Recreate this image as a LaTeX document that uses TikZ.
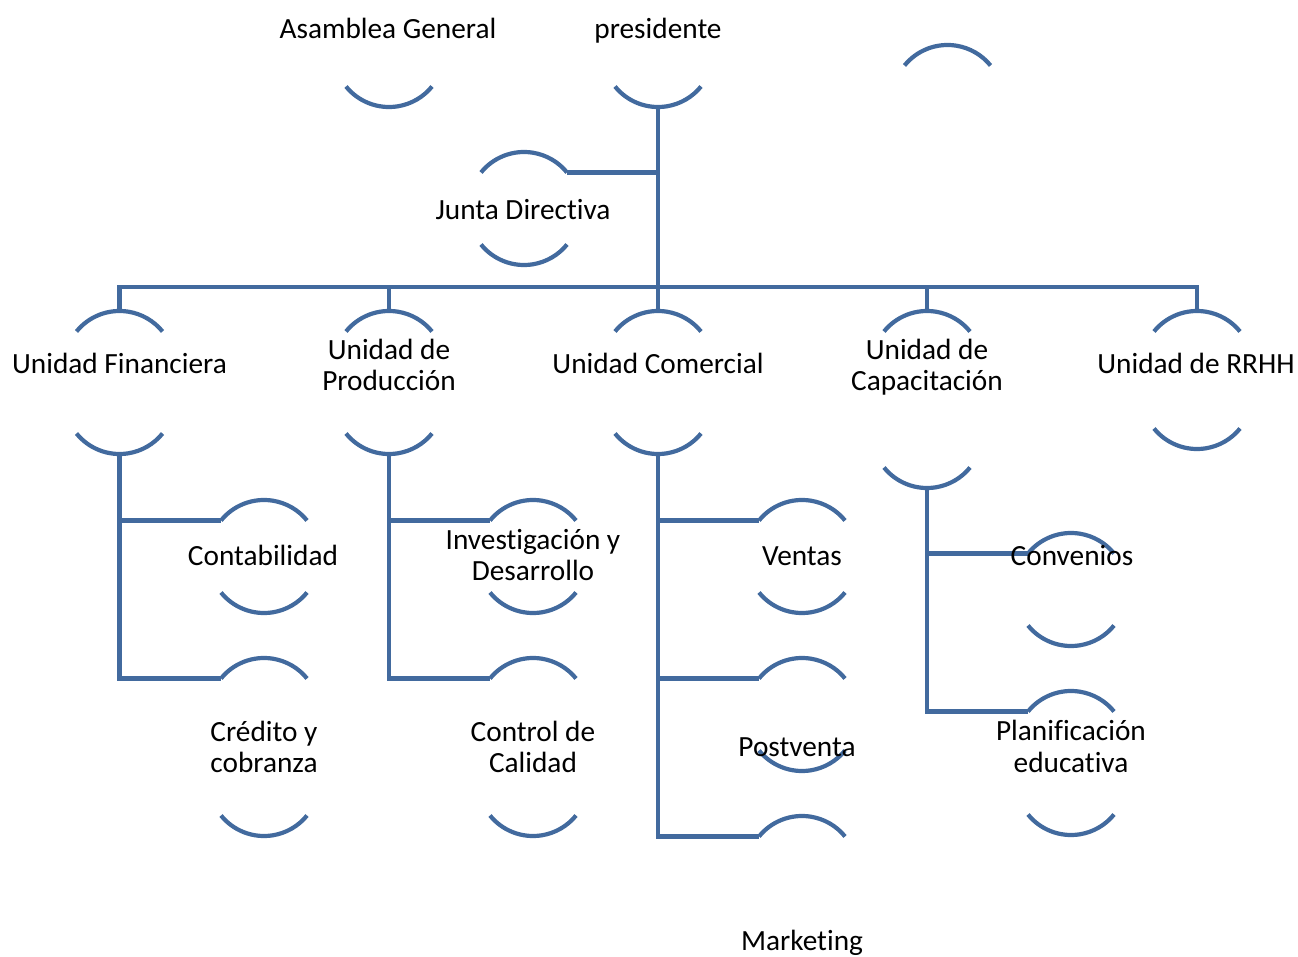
\documentclass[tikz,border=0pt]{standalone}
\usepackage{fontspec}
\setmainfont{Carlito}[Ligatures=NoCommon]

\definecolor{orgblue}{RGB}{66,106,158}

\tikzset{
	link/.style={draw=orgblue, line width=2.1pt},
	arcline/.style={draw=orgblue, line width=2.1pt},
	unit/.style={font=\fontsize{14.65}{15.75}\selectfont, align=center, anchor=base, inner sep=0pt},
}

% upper half of a unit: name, x, y of its top
\newcommand{\toparc}[3]{%
	\coordinate (#1-t) at (#2,#3);
	\coordinate (#1-tl) at ({#2-43},{#3+20.5});
	\coordinate (#1-tr) at ({#2+43},{#3+20.5});
	\draw[arcline] (#1-tl) arc[start angle=219, end angle=321, radius=55.35];
}
% lower half of a unit: name, x, y of its bottom
\newcommand{\botarc}[3]{%
	\coordinate (#1-b) at (#2,#3);
	\draw[arcline] ({#2-43},{#3-20.5}) arc[start angle=141, end angle=39, radius=55.35];
}

\begin{document}
\begin{tikzpicture}[x=0.5pt, y=-0.5pt]
	\useasboundingbox (0,0) rectangle (1298,957);

	% the halves of the units
	\botarc{asamblea}{389}{107}
	\botarc{pres}{658}{107}
	\toparc{extra}{947.5}{45}
	\toparc{junta}{524}{152}   \botarc{junta}{524}{265}
	\toparc{fin}{119.5}{311}   \botarc{fin}{119.5}{454}
	\toparc{prod}{389}{311}    \botarc{prod}{389}{454}
	\toparc{com}{658}{311}     \botarc{com}{658}{454}
	\toparc{cap}{927}{311}     \botarc{cap}{927}{488}
	\toparc{rrhh}{1197}{311}   \botarc{rrhh}{1197}{449}
	\toparc{cont}{264}{500}    \botarc{cont}{264}{613}
	\toparc{cred}{264}{658}    \botarc{cred}{264}{836}
	\toparc{inv}{533}{500}     \botarc{inv}{533}{613}
	\toparc{calidad}{533}{658} \botarc{calidad}{533}{836}
	\toparc{ventas}{802}{500}  \botarc{ventas}{802}{613}
	\toparc{postv}{802}{658}   \botarc{postv}{802}{771}
	\toparc{mkt}{802}{816}
	\toparc{conv}{1071}{533}   \botarc{conv}{1071}{646}
	\toparc{plan}{1071}{691}   \botarc{plan}{1071}{835}

	% lines between them
	\coordinate (bus) at (0,287);
	\draw[link] (pres-b) -- (pres-b |- bus);
	\draw[link] (junta-tr) -- (junta-tr -| pres-b);
	\draw[link] (fin-t) -- (fin-t |- bus) -- (rrhh-t |- bus) -- (rrhh-t);
	\foreach \u in {prod,com,cap}
		\draw[link] (\u-t) -- (\u-t |- bus);
	\foreach \u/\c in {fin/cont, fin/cred, prod/inv, prod/calidad,
		com/ventas, com/postv, com/mkt, cap/conv, cap/plan}
		\draw[link] (\u-b) |- (\c-tl);

	% texts (base = baseline of the last line)
	\node[unit] (asamblea) at (388,38.5) {Asamblea General};
	\node[unit] (pres) at (658,38.5) {presidente};
	\node[unit] (junta) at (523,219.3) {Junta Directiva};
	\node[unit] (fin) at (119.5,373.5) {Unidad Financiera};
	\node[unit] (prod) at (389,391) {Unidad de\\Producción};
	\node[unit] (com) at (658,373.5) {Unidad Comercial};
	\node[unit] (cap) at (927,391) {Unidad de\\Capacitación};
	\node[unit] (rrhh) at (1196,373.5) {Unidad de RRHH};
	\node[unit] (cont) at (263,566) {Contabilidad};
	\node[unit] (inv) at (533,581) {Investigación y\\Desarrollo};
	\node[unit] (ventas) at (802,566) {Ventas};
	\node[unit] (conv) at (1072,566) {Convenios};
	\node[unit] (cred) at (264,772.5) {Crédito y\\cobranza};
	\node[unit] (calidad) at (533,772.5) {Control de\\Calidad};
	\node[unit] (postv) at (797,756.7) {Postventa};
	\node[unit] (plan) at (1071,772) {Planificación\\educativa};
	\node[unit] (mkt) at (802,950.7) {Marketing};
\end{tikzpicture}
\end{document}
